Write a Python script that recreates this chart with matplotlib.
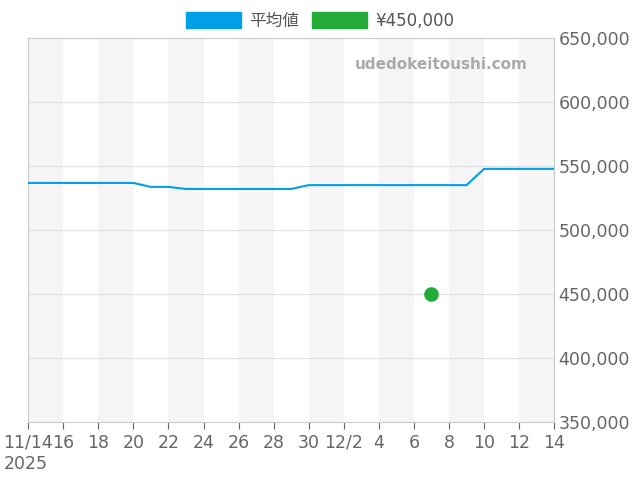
import numpy as np
import matplotlib
matplotlib.use("Agg")
import matplotlib.pyplot as plt
from matplotlib.patches import Rectangle
import datetime as dt

plt.rcParams['font.family'] = ['DejaVu Sans', 'Noto Sans CJK JP']

start = dt.date(2025, 11, 14)
dates = [start + dt.timedelta(days=i) for i in range(31)]
avg = ([536700] * 7 + [533600] * 2 + [532000] * 7 + [535000] * 10 + [547700] * 5)
point_date = [dt.date(2025, 12, 7)]
point_val = [450000]

fig = plt.figure(figsize=(6.4, 4.8), dpi=100)
ax = fig.add_axes([0.044, 0.121, 0.822, 0.8])

for i in range(0, 30, 4):
    d0 = start + dt.timedelta(days=i)
    ax.axvspan(d0, d0 + dt.timedelta(days=2), color='#f5f5f5', lw=0, zorder=0)

ax.plot(dates, avg, color='#00a0e9', lw=1.5, zorder=3)
ax.scatter(point_date, point_val, color='#22ab38', s=90, zorder=4)

ax.set_xlim(dates[0], dates[-1])
ax.set_ylim(350000, 650000)
ax.yaxis.tick_right()
ax.set_yticks(range(350000, 650001, 50000))
ax.yaxis.set_major_formatter(matplotlib.ticker.FuncFormatter(lambda v, p: f'{int(v):,}'))
ax.grid(axis='y', color='#e0e0e0', lw=0.8)

ticks = [start + dt.timedelta(days=i) for i in range(0, 31, 2)]
labels = []
for t in ticks:
    if t == start:
        labels.append('11/14\n2025')
    elif t.day == 2:
        labels.append(f'{t.month}/{t.day}')
    else:
        labels.append(str(t.day))
ax.set_xticks(ticks)
ax.set_xticklabels(labels)
ax.get_xticklabels()[0].set_multialignment('left')
ax.tick_params(colors='#666666', labelsize=12.5, length=5)
ax.tick_params(axis='y', length=0, pad=3)
for s in ax.spines.values():
    s.set_color('#cccccc')

ax.text(0.95, 0.93, 'udedokeitoushi.com', transform=ax.transAxes, ha='right', va='center',
        color='#aaaaaa', fontsize=11, fontweight='bold')

handles = [Rectangle((0, 0), 1, 1, color='#00a0e9'), Rectangle((0, 0), 1, 1, color='#22ab38')]
ax.legend(handles, ['平均値', '¥450,000'], loc='lower center', bbox_to_anchor=(0.555, 1.0), ncol=2,
          frameon=False, fontsize=12, labelcolor='#555555', handlelength=3.3, handleheight=1.1,
          borderaxespad=0.1, columnspacing=0.8, handletextpad=0.5)

fig.savefig('out.png')
